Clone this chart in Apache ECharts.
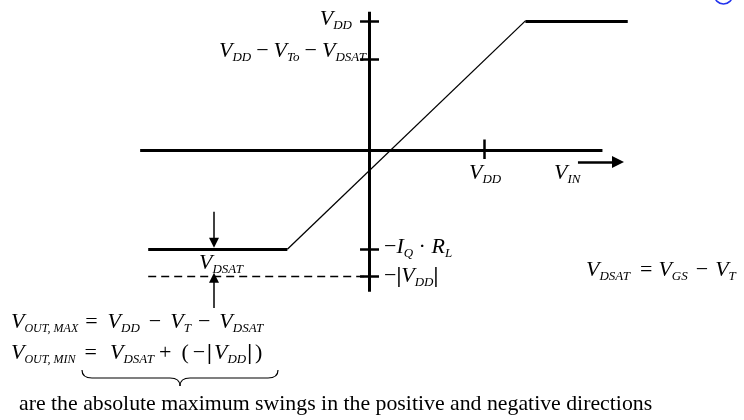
<!DOCTYPE html>
<html>
<head>
<meta charset="utf-8">
<script src="https://cdn.jsdelivr.net/npm/echarts@6/dist/echarts.min.js"></script>
<style>
  html, body { margin: 0; padding: 0; background: #fff; }
  #chart { width: 744px; height: 420px; }
</style>
</head>
<body>
<div id="chart"></div>
<script>
// axis units: x in V_DD (115 px), y in V_DD (129 px), origin at the axes crossing
var xAxisSpan = [-1.99, 2.03];
var yAxisSpan = [-1.10, 1.07];
var xTicks = [1.0];                       // V_DD on the input axis
var yTicks = [1.0, 0.70, -0.77, -0.98];   // V_DD, V_DD-V_To-V_DSAT, -I_Q*R_L, -|V_DD|
var transferX = [-1.92, -0.71, 1.36, 2.25];
var transferY = [-0.77, -0.77, 1.0, 1.0];
var floorLine = { x: [-1.92, 0], y: -0.98 };
var dsatArrowX = -1.348;
var dsatArrowDown = [-0.48, -0.72];
var dsatArrowUp = [-1.225, -0.99];
var vinArrow = { x: [1.817, 2.165], y: -0.093 };

var chart = echarts.init(document.getElementById("chart"));

var tickSegs = [];
xTicks.forEach(function (t) {
  tickSegs.push({ coords: [[t, 0.08], [t, -0.07]] });
});
yTicks.forEach(function (t) {
  tickSegs.push({ coords: [[-0.078, t], [0.087, t]] });
});

function seg(a, b) {
  return { coords: [a, b] };
}

var serif = "'Liberation Serif', 'Times New Roman', serif";
var rich = {
  v: { fontFamily: serif, fontStyle: "italic", fontSize: 22, fill: "#000", color: "#000" },
  s: { fontFamily: serif, fontStyle: "italic", fontSize: 13, fill: "#000", color: "#000", padding: [13, 0, 0, 0] },
  u: { fontFamily: serif, fontStyle: "italic", fontSize: 12, fill: "#000", color: "#000", padding: [13, 0, 0, 0] },
  o: { fontFamily: serif, fontSize: 22, fill: "#000", color: "#000" },
  b: { fontFamily: serif, fontSize: 22, fontWeight: "bold", fill: "#000", color: "#000" },
  t: { fontFamily: serif, fontSize: 21.8, fill: "#000", color: "#000" }
};

function label(x, y, text, align) {
  return {
    type: "text",
    x: x,
    y: y,
    style: {
      text: text,
      rich: rich,
      align: align || "left",
      textAlign: align || "left",
      verticalAlign: "middle",
      textVerticalAlign: "middle",
      fill: "#000"
    }
  };
}

function curve(x1, y1, cx, cy, x2, y2) {
  return {
    type: "bezierCurve",
    shape: { x1: x1, y1: y1, cpx1: cx, cpy1: cy, x2: x2, y2: y2 },
    style: { fill: null, stroke: "#000", lineWidth: 1.2 }
  };
}

var V = function (sub) { return "{v|V}{s|" + sub + "}"; };
var Vu = function (sub) { return "{v|V}{u|" + sub + "}"; };
var op = function (s) { return "{o|" + s + "}"; };
// fixed-width gap token
var g = function (n) {
  if (!rich["g" + n]) rich["g" + n] = { fontFamily: serif, fontSize: 22, width: n };
  return "{g" + n + "| }";
};
var minus = "\u2212";
var bar = "{b||}";

chart.setOption({
  animation: false,
  grid: { left: 24, width: 690, top: 8, height: 400 },
  xAxis: { type: "value", min: -3, max: 3, show: false },
  yAxis: { type: "value", min: -2, max: 1.1, show: false },
  series: [
    {
      type: "lines",
      coordinateSystem: "cartesian2d",
      lineStyle: { color: "#000", width: 3, opacity: 1 },
      data: [
        seg([xAxisSpan[0], 0], [xAxisSpan[1], 0]),
        seg([0, yAxisSpan[0]], [0, yAxisSpan[1]])
      ]
    },
    {
      type: "lines",
      coordinateSystem: "cartesian2d",
      lineStyle: { color: "#000", width: 2.5, opacity: 1 },
      data: tickSegs
    },
    {
      type: "lines",
      coordinateSystem: "cartesian2d",
      lineStyle: { color: "#000", width: 3, opacity: 1 },
      data: [
        seg([transferX[0], transferY[0]], [transferX[1], transferY[1]]),
        seg([transferX[2], transferY[2]], [transferX[3], transferY[3]])
      ]
    },
    {
      type: "lines",
      coordinateSystem: "cartesian2d",
      lineStyle: { color: "#000", width: 1.3, opacity: 1 },
      data: [seg([transferX[1], transferY[1]], [transferX[2], transferY[2]])]
    },
    {
      type: "lines",
      coordinateSystem: "cartesian2d",
      lineStyle: { color: "#000", width: 1.3, opacity: 1, type: [8, 5] },
      data: [seg([floorLine.x[0], floorLine.y], [floorLine.x[1], floorLine.y])]
    },
    {
      type: "lines",
      coordinateSystem: "cartesian2d",
      symbol: ["none", "triangle"],
      symbolSize: [0, 10],
      lineStyle: { color: "#000", width: 1.5, opacity: 1 },
      data: [
        seg([dsatArrowX, dsatArrowDown[0]], [dsatArrowX, dsatArrowDown[1]]),
        seg([dsatArrowX, dsatArrowUp[0]], [dsatArrowX, dsatArrowUp[1]])
      ]
    },
    {
      type: "lines",
      coordinateSystem: "cartesian2d",
      symbol: ["none", "triangle"],
      symbolSize: [0, 12],
      lineStyle: { color: "#000", width: 2.5, opacity: 1 },
      data: [seg([vinArrow.x[0], vinArrow.y], [vinArrow.x[1], vinArrow.y])]
    }
  ],
  graphic: [
    label(352, 19, V("DD"), "right"),
    label(366, 51, V("DD") + g(5) + op(minus) + g(5) + V("To") + g(5) + op(minus) + g(5) + V("DSAT"), "right"),
    label(469, 173, V("DD")),
    label(554, 173, V("IN")),
    label(384, 247, op(minus) + "{v|I}{s|Q}" + op(" \u00b7 ") + "{v|R}{s|L}"),
    label(384, 276, op(minus) + bar + V("DD") + bar),
    label(199, 263, V("DSAT")),
    label(586, 270, V("DSAT") + g(10) + op("=") + g(6) + V("GS") + g(8) + op(minus) + g(7) + V("T")),
    label(11, 322, Vu("OUT, MAX") + g(7) + op("=") + g(10) + V("DD") + g(9) + op(minus) + g(9) + V("T") + g(7) + op(minus) + g(9) + V("DSAT")),
    label(11, 353, Vu("OUT, MIN") + g(9) + op("=") + g(13) + V("DSAT") + g(5) + op("+") + g(10) + op("(") + g(4) + op(minus) + g(2) + bar + g(2) + V("DD") + g(1) + bar + g(3) + op(")")),
    curve(82, 370, 82, 378, 92, 378),
    { type: "line", shape: { x1: 92, y1: 378, x2: 170, y2: 378 }, style: { stroke: "#000", lineWidth: 1.2 } },
    curve(170, 378, 180, 378, 180, 386),
    curve(180, 386, 180, 378, 190, 378),
    { type: "line", shape: { x1: 190, y1: 378, x2: 268, y2: 378 }, style: { stroke: "#000", lineWidth: 1.2 } },
    curve(268, 378, 278, 378, 278, 370),
    label(19, 404, "{t|are the absolute maximum swings in the positive and negative directions}"),
    {
      type: "circle",
      shape: { cx: 723.5, cy: -5, r: 9 },
      style: { fill: null, stroke: "#2233ee", lineWidth: 1.6 }
    }
  ]
});
</script>
</body>
</html>
